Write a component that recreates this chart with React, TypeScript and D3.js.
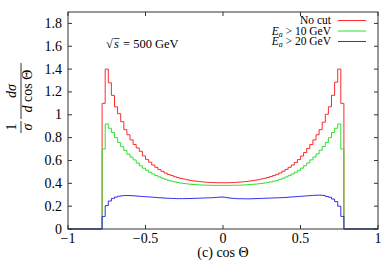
import { useEffect, useRef } from 'react'
import * as d3 from 'd3'

// histogram bins: width 0.02, first non-empty bin starts at -0.78
const binLow = -0.78
const binWidth = 0.02

const noCut = [
  1.10, 1.40, 1.28, 1.17, 1.07, 1.01, 0.94, 0.87, 0.825, 0.78,
  0.74, 0.71, 0.68, 0.64, 0.61, 0.585, 0.56, 0.54, 0.52, 0.505,
  0.49, 0.478, 0.468, 0.458, 0.45, 0.443, 0.437, 0.431, 0.426, 0.422,
  0.418, 0.415, 0.412, 0.41, 0.408, 0.407, 0.406, 0.405, 0.405,
  0.405, 0.405, 0.406, 0.407, 0.409, 0.411, 0.413, 0.416, 0.419, 0.423,
  0.427, 0.432, 0.438, 0.444, 0.451, 0.459, 0.469, 0.479, 0.491, 0.506,
  0.522, 0.54, 0.56, 0.583, 0.608, 0.638, 0.67, 0.705, 0.74, 0.78,
  0.825, 0.87, 0.935, 1.005, 1.07, 1.17, 1.285, 1.40, 1.10,
]

const cut10 = [
  0.70, 0.92, 0.882, 0.844, 0.80, 0.757, 0.72, 0.688, 0.655, 0.629,
  0.605, 0.578, 0.553, 0.532, 0.514, 0.497, 0.482, 0.468, 0.456, 0.445,
  0.435, 0.426, 0.419, 0.413, 0.407, 0.402, 0.398, 0.395, 0.392, 0.39,
  0.388, 0.386, 0.385, 0.384, 0.383, 0.383, 0.382, 0.382, 0.382,
  0.382, 0.382, 0.382, 0.383, 0.383, 0.384, 0.385, 0.387, 0.389, 0.391,
  0.393, 0.396, 0.399, 0.403, 0.408, 0.413, 0.419, 0.426, 0.435, 0.445,
  0.456, 0.468, 0.482, 0.497, 0.514, 0.533, 0.554, 0.578, 0.605, 0.63,
  0.657, 0.69, 0.722, 0.758, 0.80, 0.845, 0.882, 0.92, 0.70,
]

const cut20 = [
  0.11, 0.205, 0.245, 0.268, 0.28, 0.287, 0.291, 0.293, 0.293, 0.292,
  0.29, 0.288, 0.286, 0.284, 0.282, 0.28, 0.278, 0.276, 0.274, 0.272,
  0.27, 0.269, 0.268, 0.267, 0.266, 0.266, 0.266, 0.267, 0.267, 0.268,
  0.269, 0.27, 0.271, 0.272, 0.273, 0.274, 0.276, 0.278, 0.28,
  0.278, 0.274, 0.27, 0.268, 0.266, 0.265, 0.265, 0.264, 0.264, 0.265,
  0.266, 0.267, 0.268, 0.269, 0.27, 0.271, 0.272, 0.273, 0.274, 0.275,
  0.277, 0.279, 0.281, 0.283, 0.285, 0.287, 0.289, 0.291, 0.293, 0.295,
  0.296, 0.296, 0.294, 0.285, 0.278, 0.262, 0.24, 0.2, 0.11,
]

const xTicks = [-1, -0.5, 0, 0.5, 1]
const xTickLabels = ['\u22121', '\u22120.5', '0', '0.5', '1']
const yTicks = [0, 0.2, 0.4, 0.6, 0.8, 1, 1.2, 1.4, 1.6, 1.8]
const yTickLabels = ['0', '0.2', '0.4', '0.6', '0.8', '1', '1.2', '1.4', '1.6', '1.8']

const series = [
  { name: 'No cut', sub: '', values: noCut, color: '#ff2a2a' },
  { name: '> 10 GeV', sub: 'a', values: cut10, color: '#2ee02e' },
  { name: '> 20 GeV', sub: 'a', values: cut20, color: '#3030f0' },
]

const W = 390
const H = 265
const FONT = "'Times New Roman', 'Liberation Serif', Tinos, 'DejaVu Serif', serif"

export default function App() {
  const svgRef = useRef<SVGSVGElement>(null)

  useEffect(() => {
    if (!svgRef.current) return
    const svg = d3.select(svgRef.current)
    svg.selectAll('*').remove()

    const margin = { top: 12, right: 12, bottom: 36, left: 68 }
    const x = d3.scaleLinear().domain([-1, 1]).range([margin.left, W - margin.right])
    const y = d3.scaleLinear().domain([0, 1.9]).range([H - margin.bottom, margin.top])

    const x0 = x(-1), x1 = x(1), y0 = y(0), y1 = y(1.9)

    // histograms
    const line = d3.line<[number, number]>()
      .x(d => x(d[0]))
      .y(d => y(d[1]))
      .curve(d3.curveStepAfter)

    series.forEach(s => {
      const pts: [number, number][] = [[-1, 0]]
      s.values.forEach((v, i) => pts.push([binLow + i * binWidth, v]))
      pts.push([binLow + s.values.length * binWidth, 0])
      pts.push([1, 0])
      svg.append('path')
        .attr('d', line(pts))
        .attr('fill', 'none')
        .attr('stroke', s.color)
        .attr('stroke-width', 1)
    })

    // frame
    svg.append('rect')
      .attr('x', x0).attr('y', y1)
      .attr('width', x1 - x0).attr('height', y0 - y1)
      .attr('fill', 'none').attr('stroke', '#333').attr('stroke-width', 1)

    const g = svg.append('g').style('font-family', FONT)

    const tl = 4
    xTicks.forEach((t, i) => {
      g.append('line').attr('x1', x(t)).attr('x2', x(t)).attr('y1', y0).attr('y2', y0 - tl)
        .attr('stroke', '#333')
      g.append('line').attr('x1', x(t)).attr('x2', x(t)).attr('y1', y1).attr('y2', y1 + tl)
        .attr('stroke', '#333')
      g.append('text')
        .attr('x', x(t)).attr('y', y0 + 13.5)
        .attr('text-anchor', 'middle')
        .attr('font-size', 14)
        .text(xTickLabels[i])
    })
    yTicks.forEach((t, i) => {
      g.append('line').attr('x1', x0).attr('x2', x0 + tl).attr('y1', y(t)).attr('y2', y(t))
        .attr('stroke', '#333')
      g.append('line').attr('x1', x1).attr('x2', x1 - tl).attr('y1', y(t)).attr('y2', y(t))
        .attr('stroke', '#333')
      g.append('text')
        .attr('x', x0 - 6).attr('y', y(t) + 4.5)
        .attr('text-anchor', 'end')
        .attr('font-size', 14)
        .text(yTickLabels[i])
    })

    // x label
    g.append('text')
      .attr('x', x(0)).attr('y', 257)
      .attr('text-anchor', 'middle')
      .attr('font-size', 14)
      .text('(c) cos \u0398')

    // y label: 1/sigma dsigma/dcos
    const yl = g.append('g').attr('transform', 'translate(21,0) rotate(-90)')
      .attr('font-size', 14)
    yl.append('text').attr('x', -127).attr('y', -5).attr('text-anchor', 'middle').text('1')
    yl.append('text').attr('x', -127).attr('y', 11).attr('text-anchor', 'middle')
      .attr('font-style', 'italic').text('\u03c3')
    yl.append('line').attr('x1', -133).attr('x2', -121).attr('y1', 0).attr('y2', 0)
      .attr('stroke', '#000').attr('stroke-width', 0.8)
    yl.append('text').attr('x', -91).attr('y', -5).attr('text-anchor', 'middle')
      .attr('font-style', 'italic').text('d\u03c3')
    const den = yl.append('text').attr('x', -91).attr('y', 11).attr('text-anchor', 'middle')
    den.append('tspan').attr('font-style', 'italic').text('d')
    den.append('tspan').text(' cos \u0398')
    yl.append('line').attr('x1', -119).attr('x2', -63).attr('y1', 0).attr('y2', 0)
      .attr('stroke', '#000').attr('stroke-width', 0.8)

    // sqrt(s) annotation
    const ann = g.append('g').attr('font-size', 12.5)
    ann.append('text').attr('x', 106).attr('y', 48).text('\u221a')
    ann.append('text').attr('x', 114).attr('y', 48).attr('font-style', 'italic').text('s')
    ann.append('line').attr('x1', 113.5).attr('x2', 119.5).attr('y1', 38.5).attr('y2', 38.5)
      .attr('stroke', '#000').attr('stroke-width', 0.7)
    ann.append('text').attr('x', 123).attr('y', 48).text('= 500 GeV')

    // legend
    series.forEach((s, i) => {
      const ly = 20.5 + i * 10.5
      const t = g.append('text')
        .attr('x', 331).attr('y', ly + 3.5)
        .attr('text-anchor', 'end')
        .attr('font-size', 11.5)
      if (s.sub) {
        t.append('tspan').attr('font-style', 'italic').text('E')
        t.append('tspan').attr('dy', 2).attr('font-size', 8).attr('font-style', 'italic').text(s.sub)
        t.append('tspan').attr('dy', -2).text(' ' + s.name)
      } else {
        t.text(s.name)
      }
      g.append('line')
        .attr('x1', 338).attr('x2', 366).attr('y1', ly).attr('y2', ly)
        .attr('stroke', s.color).attr('stroke-width', 1)
    })
  }, [])

  return (
    <svg
      ref={svgRef}
      width={W}
      height={H}
      style={{ position: 'absolute', left: 0, top: 0, background: '#fff' }}
    />
  )
}
